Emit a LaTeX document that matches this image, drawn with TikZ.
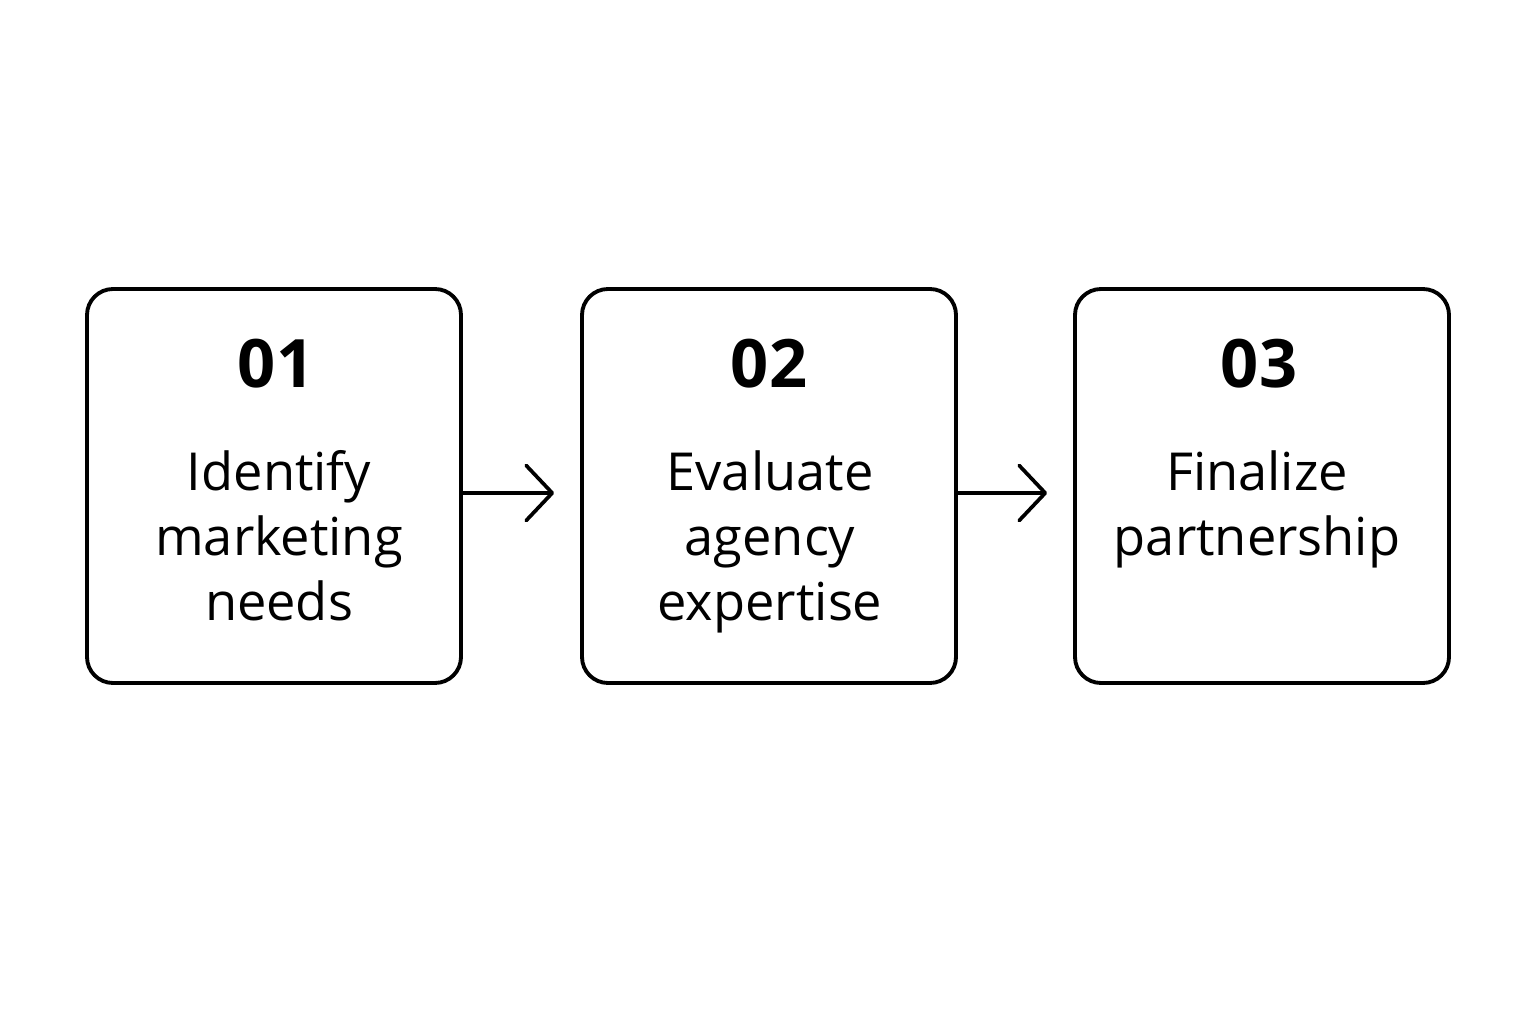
\documentclass[tikz,border=0pt]{standalone}
\usepackage{fontspec}
\setmainfont{Open Sans}
\usetikzlibrary{arrows.meta}
\begin{document}
\begin{tikzpicture}[
    stepbox/.style={draw, line width=1.1pt, rounded corners=0.26cm, minimum width=3.74cm, minimum height=3.94cm},
    stepnum/.style={font=\fontsize{19}{22}\selectfont\bfseries},
    steptext/.style={font=\fontsize{14.9}{18.5}\selectfont, align=center, anchor=north, inner sep=0pt},
    flow/.style={line width=1.05pt, -{Straight Barb[length=0.26cm, width=0.55cm, round]}, shorten >=0.26cm}
  ]
            \useasboundingbox (0,0) rectangle (15.36,10.24);
            \node[stepbox] (B1) at (2.74,5.38) {};
            \node[stepbox] (B2) at (7.69,5.38) {};
            \node[stepbox] (B3) at (12.62,5.38) {};
            \node[stepnum] (N1) at (2.76,6.60) {01};
            \node[stepnum] (N2) at (7.69,6.60) {02};
            \node[stepnum] (N3) at (12.59,6.60) {03};
            \node[steptext] (T1) at (2.79,5.74) {Identify\\marketing\\needs};
            \node[steptext] (T2) at (7.70,5.74) {Evaluate\\agency\\expertise};
            \node[steptext] (T3) at (12.57,5.74) {Finalize\\partnership};

            \draw[flow] ([yshift=-0.07cm]B1.east) to ([yshift=-0.07cm]B2.west);
            \draw[flow] ([yshift=-0.07cm]B2.east) to ([yshift=-0.07cm]B3.west);
        \end{tikzpicture}
\end{document}
